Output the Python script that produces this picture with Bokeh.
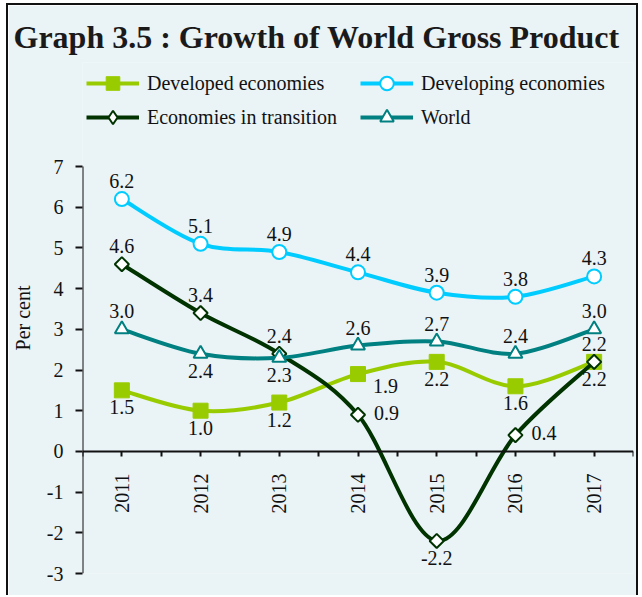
import numpy as np
from bokeh.plotting import figure
from bokeh.models import (Range1d, LinearAxis, FixedTicker, Legend, LegendItem,
                          ColumnDataSource)
from bokeh.core.properties import value
from bokeh.embed import file_html
from bokeh.resources import INLINE

# ---------------- data ----------------
years = [2011, 2012, 2013, 2014, 2015, 2016, 2017]
developed = [1.5, 1.0, 1.2, 1.9, 2.2, 1.6, 2.2]
developing = [6.2, 5.1, 4.9, 4.4, 3.9, 3.8, 4.3]
transition = [4.6, 3.4, 2.4, 0.9, -2.2, 0.4, 2.2]
world = [3.0, 2.4, 2.3, 2.6, 2.7, 2.4, 3.0]
y_ticks = [-3, -2, -1, 0, 1, 2, 3, 4, 5, 6, 7]

# label placement (style)
place = {
    "developed": ["below", "below", "below", "rbelow", "below", "below", "below"],
    "developing": ["above"] * 7,
    "transition": ["above", "above", "above", "right", "below", "right", "above"],
    "world": ["above", "below", "below", "above", "above", "above", "above"],
}

FONT = "Liberation Serif"
BG = "#EAF3F6"
INK = "#111111"

# layout (canvas px): frame top 57, frame bottom 568, y=7 sits at 161
FRAME_TOP, FRAME_BOTTOM, Y7_PX = 57, 568, 161
px_per_unit = (FRAME_BOTTOM - Y7_PX) / (y_ticks[-1] - y_ticks[0])
y_top = y_ticks[-1] + (Y7_PX - FRAME_TOP) / px_per_unit

p = figure(width=632, height=592, output_backend="svg", toolbar_location=None,
           x_range=Range1d(years[0] - 0.5, years[-1] + 0.5),
           y_range=Range1d(y_ticks[0], y_top),
           x_axis_type=None, y_axis_type=None,
           min_border_left=72, min_border_right=7, min_border_bottom=24,
           min_border_top=FRAME_TOP)
p.background_fill_color = BG
p.border_fill_color = BG
p.outline_line_color = None
p.xgrid.visible = False
p.ygrid.visible = False
p.styles = {"margin-left": "6px", "margin-top": "3px",
            "border-left": "2px solid #111", "border-top": "2px solid #111",
            "border-right": "2px solid #111"}

p.title.text = "Graph 3.5 : Growth of World Gross Product"
p.title.text_font = FONT
p.title.text_font_size = "32px"
p.title.text_font_style = "bold"
p.title.text_color = "#1a1a1a"
p.title.align = "left"
p.title.offset = -69
p.title.standoff = 16

# y axis (line drawn separately so it stops at 7)
yax = LinearAxis(ticker=FixedTicker(ticks=y_ticks, minor_ticks=[]))
yax.major_label_overrides = {t: str(t) for t in y_ticks}
yax.axis_label = "Per cent"
yax.axis_label_text_font = FONT
yax.axis_label_text_font_size = "20px"
yax.axis_label_text_font_style = "normal"
yax.axis_label_text_color = INK
yax.axis_label_standoff = 10
yax.major_label_text_font = FONT
yax.major_label_text_font_size = "20px"
yax.major_label_text_color = INK
yax.major_label_standoff = 12
yax.axis_line_color = None
yax.major_tick_line_width = 2
yax.major_tick_out = 7
yax.major_tick_in = 0
yax.major_tick_line_color = INK
p.add_layout(yax, "left")
p.segment(x0=[years[0] - 0.5], y0=[y_ticks[0]], x1=[years[0] - 0.5], y1=[y_ticks[-1]],
          line_color=INK, line_width=2)

# x axis crossing at 0
minor = [years[0] - 0.5] + [y + 0.5 for y in years]
xax = LinearAxis(ticker=FixedTicker(ticks=years, minor_ticks=minor), fixed_location=0)
xax.major_label_orientation = np.pi / 2
xax.major_label_text_font = FONT
xax.major_label_text_font_size = "20px"
xax.major_label_text_color = INK
xax.major_label_standoff = 17
xax.axis_line_width = 2
xax.major_tick_line_width = 2
xax.minor_tick_line_width = 2
xax.major_tick_out = 5
xax.major_tick_in = 0
xax.minor_tick_out = 5
xax.minor_tick_in = 0
xax.axis_line_color = INK
xax.major_tick_line_color = INK
xax.minor_tick_line_color = INK
p.add_layout(xax, "below")


def smooth_controls(xs, ys):
    pts = np.column_stack([xs, ys]).astype(float)
    n = len(pts)
    x0, y0, x1, y1, cx0, cy0, cx1, cy1 = ([] for _ in range(8))
    for i in range(n - 1):
        pm = pts[i - 1] if i > 0 else pts[i]
        pa = pts[i]
        pb = pts[i + 1]
        pn = pts[i + 2] if i + 2 < n else pts[i + 1]
        c1 = pa + (pb - pm) / 6.0
        c2 = pb - (pn - pa) / 6.0
        x0.append(pa[0]); y0.append(pa[1]); x1.append(pb[0]); y1.append(pb[1])
        cx0.append(c1[0]); cy0.append(c1[1]); cx1.append(c2[0]); cy1.append(c2[1])
    return dict(x0=x0, y0=y0, x1=x1, y1=y1, cx0=cx0, cy0=cy0, cx1=cx1, cy1=cy1)


series = [
    ("developed", "Developed economies", developed, "#99CC00",
     dict(marker="square", size=15, fill_color="#99CC00", line_color="#99CC00", line_width=1),
     None),
    ("developing", "Developing economies", developing, "#00CCFF",
     dict(marker="circle", size=14, fill_color="white", line_color="#00CCFF", line_width=2),
     None),
    ("transition", "Economies in transition", transition, "#003300",
     dict(marker="square", angle=np.pi / 4, size=10, fill_color="white", line_color="#003300", line_width=2),
     dict(marker="diamond", fill_color="white", line_color="#003300", line_width=2)),
    ("world", "World", world, "#008080",
     dict(marker="triangle", size=14, fill_color="white", line_color="#008080", line_width=2),
     None),
]

items = {}
for key, name, vals, color, mk, legend_mk in series:
    src = ColumnDataSource(smooth_controls(years, vals))
    br = p.bezier(x0="x0", y0="y0", x1="x1", y1="y1", cx0="cx0", cy0="cy0",
                  cx1="cx1", cy1="cy1", source=src, line_color=color, line_width=4)
    sr = p.scatter(years, vals, **mk)
    if legend_mk is not None:
        # legend-only key glyph (no visible points in the plot)
        lr = p.scatter([np.nan], [np.nan], size=10, **legend_mk)
        items[key] = LegendItem(label=name, renderers=[br, lr])
    else:
        items[key] = LegendItem(label=name, renderers=[br, sr])

# data labels
label_style = {
    "above": dict(x_offset=0, y_offset=-18, text_align="center"),
    "below": dict(x_offset=0, y_offset=17, text_align="center"),
    "right": dict(x_offset=16, y_offset=-2, text_align="left"),
    "rbelow": dict(x_offset=15, y_offset=12, text_align="left"),
}
for key, name, vals, color, mk, legend_mk in series:
    for pos_kind, kw in label_style.items():
        xs = [x for x, k in zip(years, place[key]) if k == pos_kind]
        ys = [v for v, k in zip(vals, place[key]) if k == pos_kind]
        if not xs:
            continue
        txt = [f"{v:.1f}" for v in ys]
        p.text(xs, ys, text=txt, text_font=value(FONT), text_font_size="20px",
               text_color=INK, text_baseline="alphabetic", **kw)

# column-major fill: col1 = developed, transition ; col2 = developing, world
legend = Legend(items=[items["developed"], items["transition"],
                       items["developing"], items["world"]],
                ncols=2, location=(4, 439))
legend.label_text_font = FONT
legend.label_text_font_size = "20px"
legend.label_text_color = INK
legend.glyph_width = 53
legend.glyph_height = 34
legend.label_height = 20
legend.label_width = 213
legend.label_standoff = 8
legend.spacing = 0
legend.padding = 2
legend.margin = 0
legend.background_fill_alpha = 0
legend.border_line_color = None
p.add_layout(legend, "center")

open("out.html", "w").write(file_html(p, INLINE))
